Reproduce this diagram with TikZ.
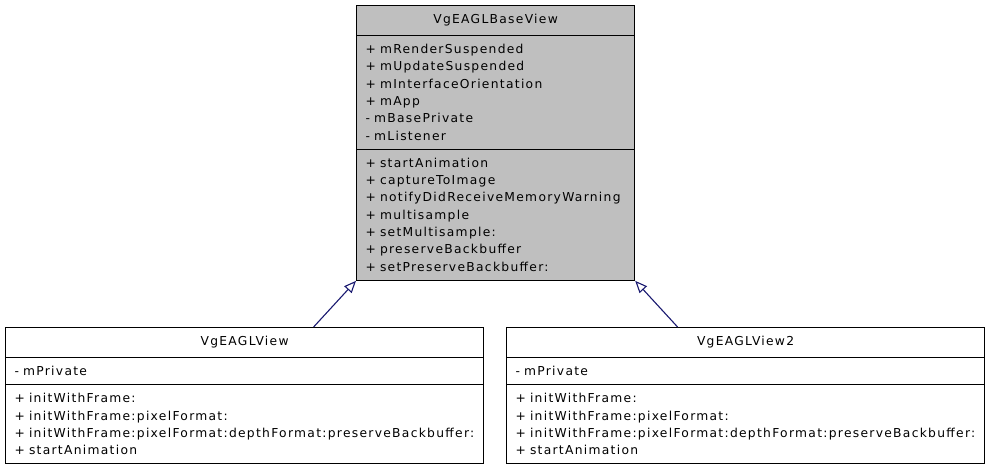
\documentclass[tikz,border=0pt]{standalone}
\usepackage{fontspec}
\setmainfont[LetterSpace=10.5]{DejaVu Sans}
\usetikzlibrary{arrows.meta,shapes.multipart}
\definecolor{edgeblue}{HTML}{191970}
\definecolor{basegray}{HTML}{BFBFBF}
\tikzset{
  umlclass/.style={rectangle split, rectangle split parts=3, draw=black,
    line width=1.2pt, inner xsep=9pt, inner ysep=8.3pt, align=left,
    anchor=north west, font=\fontsize{12.3}{17.3}\selectfont},
  inherit/.style={draw=edgeblue, line width=1.1pt,
    -{Triangle[open,length=12pt,width=10pt]}}
}
\begin{document}
\begin{tikzpicture}[x=1pt,y=-1pt]
  \useasboundingbox (0,0) rectangle (989,469);
  % base class
  \node[umlclass, fill=basegray, text width=260pt] (base) at (356,5)
    {\centering VgEAGLBaseView\par
     \nodepart{two}+ mRenderSuspended\\+ mUpdateSuspended\\+ mInterfaceOrientation\\+ mApp\\- mBasePrivate\\- mListener
     \nodepart{three}+ startAnimation\\+ captureToImage\\+ notifyDidReceiveMemoryWarning\\+ multisample\\+ setMultisample:\\+ preserveBackbuffer\\+ setPreserveBackbuffer:};
  % subclasses
  \node[umlclass, text width=460pt] (view) at (5,327)
    {\centering VgEAGLView\par
     \nodepart{two}- mPrivate
     \nodepart{three}+ initWithFrame:\\+ initWithFrame:pixelFormat:\\+ initWithFrame:pixelFormat:depthFormat:preserveBackbuffer:\\+ startAnimation};
  \node[umlclass, text width=460pt] (view2) at (506,327)
    {\centering VgEAGLView2\par
     \nodepart{two}- mPrivate
     \nodepart{three}+ initWithFrame:\\+ initWithFrame:pixelFormat:\\+ initWithFrame:pixelFormat:depthFormat:preserveBackbuffer:\\+ startAnimation};
  \path
    ([xshift=69pt]view.north) edge[inherit] (base.south west)
    ([xshift=-68pt]view2.north) edge[inherit] (base.south east);
\end{tikzpicture}
\end{document}
